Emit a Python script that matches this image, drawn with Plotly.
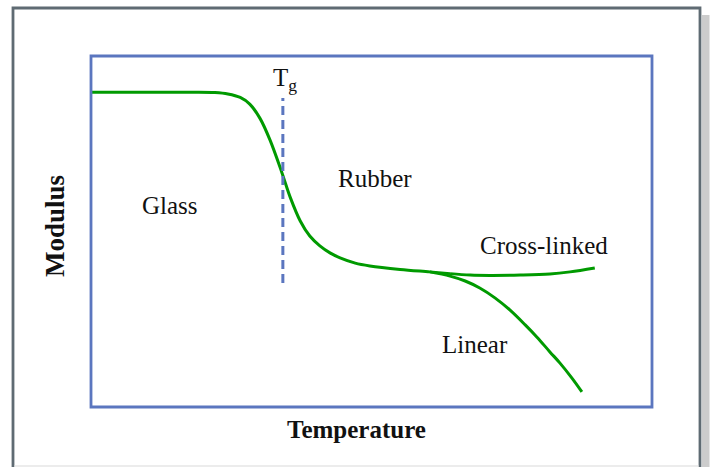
import plotly.graph_objects as go

# Data (arbitrary units: Temperature 0-100, Modulus 0-100)
main_T = [0, 10.5, 18.0, 22.1, 24.4, 26.6, 28.3, 30.1, 31.9, 34.0, 35.5, 37.3, 39.0, 40.8, 42.6, 44.4, 47.1, 49.7, 55.1, 60.4, 64.0]
main_M = [89.7, 89.7, 89.7, 89.6, 89.2, 88.2, 86.3, 82.3, 76.1, 66.9, 59.8, 53.0, 48.7, 45.9, 43.9, 42.5, 41.0, 40.2, 39.2, 38.5, 38.0]

cross_T = [64.0, 67.6, 71.1, 76.5, 81.8, 85.4, 89.8]
cross_M = [38.0, 37.6, 37.5, 37.6, 37.9, 38.5, 39.6]

linear_T = [60.4, 64.0, 66.7, 69.3, 72.0, 74.7, 77.4, 79.5, 81.8, 83.6, 85.7, 87.5]
linear_M = [38.5, 37.3, 35.9, 33.9, 31.1, 27.6, 23.4, 19.9, 15.7, 12.5, 8.3, 4.3]

tg_T = [34.2, 34.2]
tg_M = [35.3, 88.0]

labels = ["Glass", "Rubber", "Cross-linked", "Linear", "T<sub>g</sub>"]
label_T = [14.1, 50.6, 80.8, 68.4, 34.6]
label_M = [57.3, 65.0, 45.9, 17.9, 93.2]

GREEN = "#009a00"
BLUE = "#5b76bf"
FONT = "Liberation Serif, Times New Roman, serif"

fig = go.Figure()
for xs, ys in [(main_T, main_M), (cross_T, cross_M), (linear_T, linear_M)]:
    fig.add_trace(go.Scatter(x=xs, y=ys, mode="lines", line=dict(color=GREEN, width=3, shape="spline", smoothing=1.0),
                             hoverinfo="skip", showlegend=False))
fig.add_trace(go.Scatter(x=tg_T, y=tg_M, mode="lines", line=dict(color=BLUE, width=3, dash="9px,5px"),
                         hoverinfo="skip", showlegend=False))

for t, xv, yv in zip(labels, label_T, label_M):
    fig.add_annotation(x=xv, y=yv, text=t, showarrow=False, font=dict(family=FONT, size=25, color="#111111"),
                       xanchor="center", yanchor="middle")

# Axis titles
fig.add_annotation(x=0.474, y=-0.065, xref="paper", yref="paper", text="<b>Temperature</b>", showarrow=False,
                   font=dict(family=FONT, size=25, color="#111111"), xanchor="center", yanchor="middle")
fig.add_annotation(x=-0.064, y=0.516, xref="paper", yref="paper", text="<b>Modulus</b>", showarrow=False,
                   textangle=-90, font=dict(family=FONT, size=27, color="#111111"), xanchor="center", yanchor="middle")

W, H = 711, 467
L, R, T, B = 91, 59, 56, 60
pw, ph = W - L - R, H - T - B

def px_x(p):
    return (p - L) / pw

def px_y(p):
    return (H - B - p) / ph

shapes = [
    # plot box
    dict(type="rect", xref="x domain", yref="y domain", x0=0, x1=1, y0=0, y1=1,
         line=dict(color=BLUE, width=2.8), layer="above"),
    # outer shadow
    dict(type="rect", xref="paper", yref="paper", x0=px_x(702), x1=px_x(709.5), y0=px_y(470), y1=px_y(15),
         fillcolor="#cccccc", line=dict(width=0), layer="below"),
    # outer frame
    dict(type="rect", xref="paper", yref="paper", x0=px_x(13), x1=px_x(700), y0=px_y(480), y1=px_y(8),
         line=dict(color="#5f6b73", width=2.8), layer="below"),
    dict(type="line", xref="paper", yref="paper", x0=px_x(14), x1=px_x(699), y0=px_y(466), y1=px_y(466),
         line=dict(color="#d9d9d9", width=1), layer="below"),
]

fig.update_layout(
    width=W, height=H,
    margin=dict(l=L, r=R, t=T, b=B, pad=0),
    paper_bgcolor="white", plot_bgcolor="white",
    xaxis=dict(range=[0, 100], visible=False, fixedrange=True),
    yaxis=dict(range=[0, 100], visible=False, fixedrange=True),
    shapes=shapes,
    showlegend=False,
)

fig.write_html("out.html", config={"displayModeBar": False},
               post_script="document.body.style.margin='0';document.body.style.overflow='hidden';")
